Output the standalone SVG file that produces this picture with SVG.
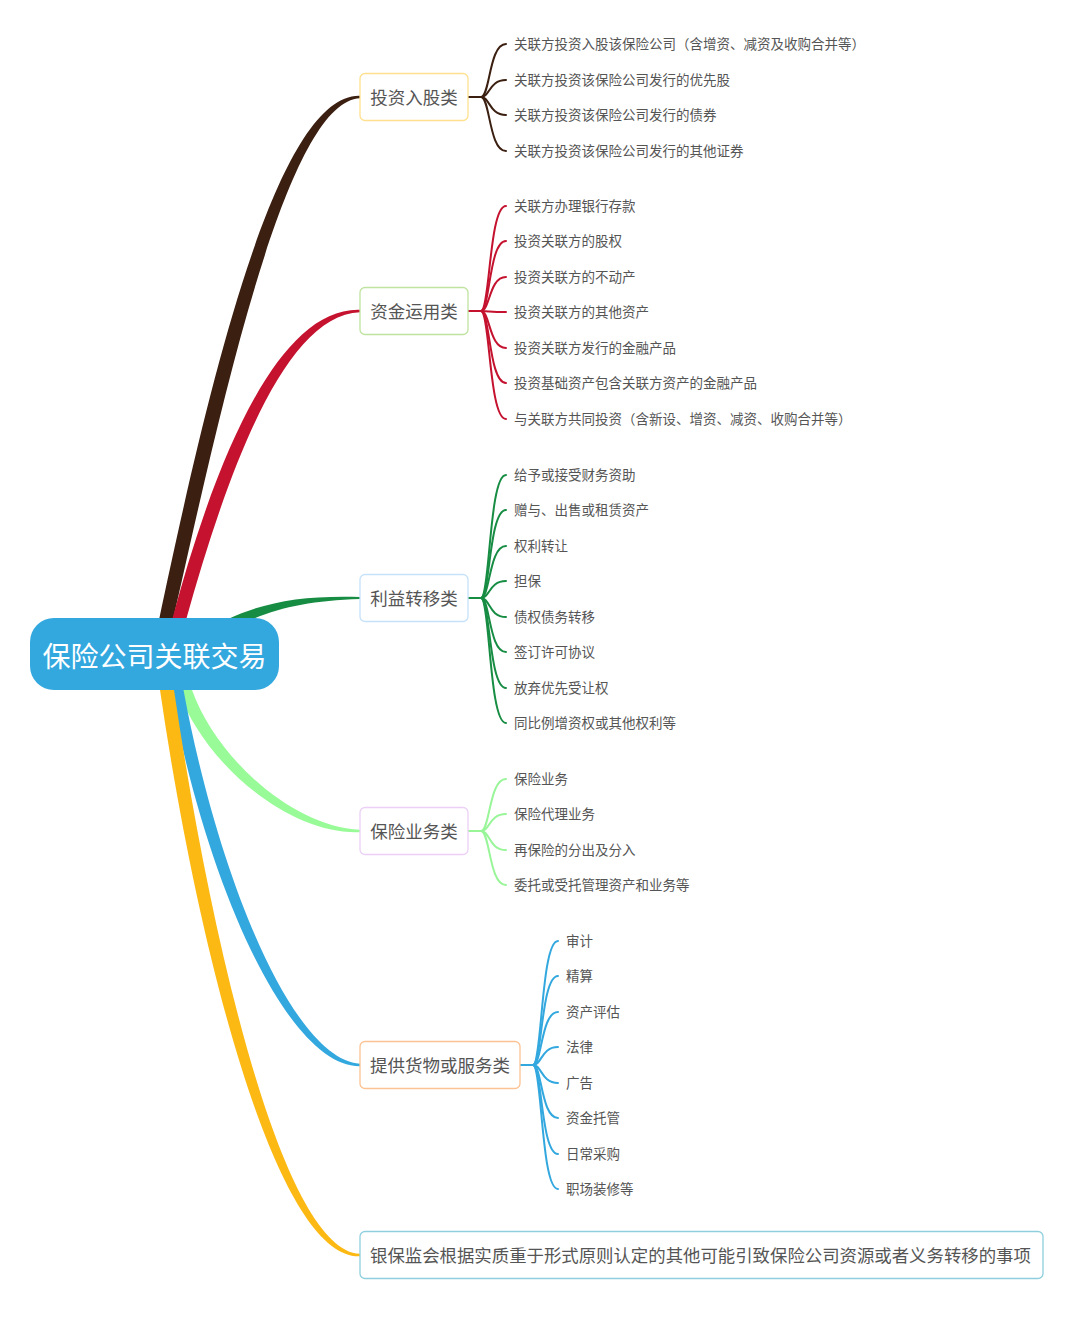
<svg xmlns="http://www.w3.org/2000/svg" width="1080" height="1317" viewBox="0 0 1080 1317">
<style>
.leaf{font-family:"Noto Sans CJK SC","Liberation Sans",sans-serif;font-size:13.5px;fill:#555}
.bt{font-family:"Noto Sans CJK SC","Liberation Sans",sans-serif;font-size:17.5px;fill:#555}
.rt{font-family:"Noto Sans CJK SC","Liberation Sans",sans-serif;font-size:28px;fill:#fff}
.box{fill:#fff;stroke-width:1.3}
.sub{fill:none;stroke-width:2;stroke-linecap:round}
</style>
<rect width="1080" height="1317" fill="#fff"/>
<g id="connectors">
  <path d="M159 620 C204 408 274 93 360 95.8 L360 98.2 C286 101 220 412 173 620 Z" fill="#3b1f11"/>
  <path d="M172 620 C213 467 276 307 360 309.8 L360 312.2 C284 315 227 473 186 620 Z" fill="#c4122f"/>
  <path d="M198 635 C248 605 290 595 360 597 L360 599 C290 601 252 615 202 645 Z" fill="#178c43"/>
  <path d="M178 690 C204 763 288 835 360 832.2 L360 829.8 C292 827 216 757 192 690 Z" fill="#98fb98"/>
  <path d="M170.5 690 C205.5 881 287 1067 360 1066.2 L360 1063.8 C293 1059 218.5 879 183.5 690 Z" fill="#33a8df"/>
  <path d="M160 690 C198 951 276 1259 360 1256.2 L360 1253.8 C284 1251 212 949 174 690 Z" fill="#fdb913"/>
  <g stroke="#3b1f11" class="sub">
    <path d="M468 97 L481 97"/>
    <path d="M481 97 C490 97 489 44 506 44"/>
    <path d="M481 97 C490 97 489 80 506 80"/>
    <path d="M481 97 C490 97 489 115 506 115"/>
    <path d="M481 97 C490 97 489 151 506 151"/>
  </g>
  <g stroke="#c4122f" class="sub">
    <path d="M468 311 L481 311"/>
    <path d="M481 311 C490 311 489 206 506 206"/>
    <path d="M481 311 C490 311 489 241 506 241"/>
    <path d="M481 311 C490 311 489 277 506 277"/>
    <path d="M481 311 C490 311 489 312 506 312"/>
    <path d="M481 311 C490 311 489 348 506 348"/>
    <path d="M481 311 C490 311 489 383 506 383"/>
    <path d="M481 311 C490 311 489 419 506 419"/>
  </g>
  <g stroke="#178c43" class="sub">
    <path d="M468 598 L481 598"/>
    <path d="M481 598 C490 598 489 475 506 475"/>
    <path d="M481 598 C490 598 489 510 506 510"/>
    <path d="M481 598 C490 598 489 546 506 546"/>
    <path d="M481 598 C490 598 489 581 506 581"/>
    <path d="M481 598 C490 598 489 617 506 617"/>
    <path d="M481 598 C490 598 489 652 506 652"/>
    <path d="M481 598 C490 598 489 688 506 688"/>
    <path d="M481 598 C490 598 489 723 506 723"/>
  </g>
  <g stroke="#98f598" class="sub">
    <path d="M468 831 L481 831"/>
    <path d="M481 831 C490 831 489 779 506 779"/>
    <path d="M481 831 C490 831 489 814 506 814"/>
    <path d="M481 831 C490 831 489 850 506 850"/>
    <path d="M481 831 C490 831 489 885 506 885"/>
  </g>
  <g stroke="#33a8df" class="sub">
    <path d="M520 1065 L533 1065"/>
    <path d="M533 1065 C542 1065 541 941 558 941"/>
    <path d="M533 1065 C542 1065 541 976 558 976"/>
    <path d="M533 1065 C542 1065 541 1012 558 1012"/>
    <path d="M533 1065 C542 1065 541 1047 558 1047"/>
    <path d="M533 1065 C542 1065 541 1083 558 1083"/>
    <path d="M533 1065 C542 1065 541 1118 558 1118"/>
    <path d="M533 1065 C542 1065 541 1154 558 1154"/>
    <path d="M533 1065 C542 1065 541 1189 558 1189"/>
  </g>
</g>
<g id="root">
  <rect x="30" y="618" width="249" height="72" rx="24" fill="#33a8df"/>
  <text class="rt" x="154.5" y="667" text-anchor="middle">保险公司关联交易</text>
</g>
<g id="n1">
  <rect class="box" x="360" y="73.5" width="108" height="47" rx="5" stroke="#ffe08f"/>
  <text class="bt" x="414" y="103.5" text-anchor="middle">投资入股类</text>
</g>
<g id="n1-leaves">
  <text class="leaf" x="514" y="49">关联方投资入股该保险公司（含增资、减资及收购合并等）</text>
  <text class="leaf" x="514" y="85">关联方投资该保险公司发行的优先股</text>
  <text class="leaf" x="514" y="120">关联方投资该保险公司发行的债券</text>
  <text class="leaf" x="514" y="156">关联方投资该保险公司发行的其他证券</text>
</g>
<g id="n2">
  <rect class="box" x="360" y="287.5" width="108" height="47" rx="5" stroke="#bfe3a0"/>
  <text class="bt" x="414" y="317.5" text-anchor="middle">资金运用类</text>
</g>
<g id="n2-leaves">
  <text class="leaf" x="514" y="211">关联方办理银行存款</text>
  <text class="leaf" x="514" y="246">投资关联方的股权</text>
  <text class="leaf" x="514" y="282">投资关联方的不动产</text>
  <text class="leaf" x="514" y="317">投资关联方的其他资产</text>
  <text class="leaf" x="514" y="353">投资关联方发行的金融产品</text>
  <text class="leaf" x="514" y="388">投资基础资产包含关联方资产的金融产品</text>
  <text class="leaf" x="514" y="424">与关联方共同投资（含新设、增资、减资、收购合并等）</text>
</g>
<g id="n3">
  <rect class="box" x="360" y="574.5" width="108" height="47" rx="5" stroke="#c6e2fb"/>
  <text class="bt" x="414" y="604.5" text-anchor="middle">利益转移类</text>
</g>
<g id="n3-leaves">
  <text class="leaf" x="514" y="480">给予或接受财务资助</text>
  <text class="leaf" x="514" y="515">赠与、出售或租赁资产</text>
  <text class="leaf" x="514" y="551">权利转让</text>
  <text class="leaf" x="514" y="586">担保</text>
  <text class="leaf" x="514" y="622">债权债务转移</text>
  <text class="leaf" x="514" y="657">签订许可协议</text>
  <text class="leaf" x="514" y="693">放弃优先受让权</text>
  <text class="leaf" x="514" y="728">同比例增资权或其他权利等</text>
</g>
<g id="n4">
  <rect class="box" x="360" y="807.5" width="108" height="47" rx="5" stroke="#ecd0f5"/>
  <text class="bt" x="414" y="837.5" text-anchor="middle">保险业务类</text>
</g>
<g id="n4-leaves">
  <text class="leaf" x="514" y="784">保险业务</text>
  <text class="leaf" x="514" y="819">保险代理业务</text>
  <text class="leaf" x="514" y="855">再保险的分出及分入</text>
  <text class="leaf" x="514" y="890">委托或受托管理资产和业务等</text>
</g>
<g id="n5">
  <rect class="box" x="360" y="1041.5" width="160" height="47" rx="5" stroke="#fbc393"/>
  <text class="bt" x="440" y="1071.5" text-anchor="middle">提供货物或服务类</text>
</g>
<g id="n5-leaves">
  <text class="leaf" x="566" y="946">审计</text>
  <text class="leaf" x="566" y="981">精算</text>
  <text class="leaf" x="566" y="1017">资产评估</text>
  <text class="leaf" x="566" y="1052">法律</text>
  <text class="leaf" x="566" y="1088">广告</text>
  <text class="leaf" x="566" y="1123">资金托管</text>
  <text class="leaf" x="566" y="1159">日常采购</text>
  <text class="leaf" x="566" y="1194">职场装修等</text>
</g>
<g id="n6">
  <rect class="box" x="360" y="1231.5" width="683" height="47" rx="5" stroke="#8fcfdd"/>
  <text class="bt" x="370" y="1261.5" style="font-size:17.4px">银保监会根据实质重于形式原则认定的其他可能引致保险公司资源或者义务转移的事项</text>
</g>
</svg>
